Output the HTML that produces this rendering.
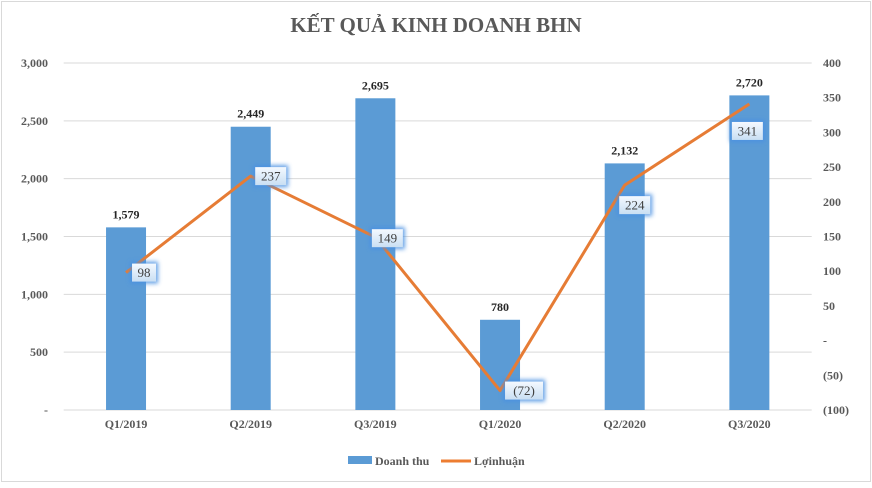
<!DOCTYPE html>
<html><head><meta charset="utf-8"><style>
body{margin:0;background:#fff}
svg text{font-family:"Liberation Serif",serif}
</style></head><body>
<svg width="872" height="483" viewBox="0 0 872 483">
<defs>
<linearGradient id="lg" x1="0" y1="0" x2="0" y2="1"><stop offset="0" stop-color="#f4f9ff"/><stop offset="1" stop-color="#c9dff3"/></linearGradient>
<filter id="glow" x="-50%" y="-50%" width="200%" height="200%"><feGaussianBlur stdDeviation="2"/></filter>
</defs>
<rect x="1.5" y="1.5" width="869" height="480" fill="#fff" stroke="#d9d9d9"/>
<text x="436" y="32" text-anchor="middle" font-size="21" font-weight="bold" fill="#595959">KẾT QUẢ KINH DOANH BHN</text>
<g id="grid"></g><g id="bars"></g><g id="line"></g><g id="labels"></g>
<g>
<rect x="348" y="456" width="24" height="8" fill="#5b9bd5"/>
<text x="375" y="465" font-size="12" font-weight="bold" fill="#595959">Doanh thu</text>
<line x1="441" y1="461" x2="471" y2="461" stroke="#ed7d31" stroke-width="3"/>
<text x="474" y="465" font-size="12" font-weight="bold" fill="#595959">Lợinhuận</text>
</g>
</svg>
<script>
const categories=["Q1/2019","Q2/2019","Q3/2019","Q1/2020","Q2/2020","Q3/2020"];
const revenue=[1579,2449,2695,780,2132,2720];
const profit=[98,237,149,-72,224,341];
const leftTicks=[0,500,1000,1500,2000,2500,3000];
const rightTicks=[-100,-50,0,50,100,150,200,250,300,350,400];
const labelOffsets=[[18,0],[20,0],[12,1],[24,0],[10,20],[-2,27]];
const NS="http://www.w3.org/2000/svg";
const X0=63.7,X1=811.7,Y0=410,Y1=63;
const cw=(X1-X0)/categories.length;
const xc=i=>X0+cw*(i+0.5);
const yL=v=>Y0-(v/3000)*(Y0-Y1);
const yR=v=>Y0-((v+100)/500)*(Y0-Y1);
const fmt=v=>v===0?"-":(v<0?"("+Math.abs(v).toLocaleString("en-US")+")":v.toLocaleString("en-US"));
function mk(tag,attrs,parent,txt){const e=document.createElementNS(NS,tag);for(const k in attrs)e.setAttribute(k,attrs[k]);if(txt!==undefined)e.textContent=txt;parent.appendChild(e);return e;}
const grid=document.getElementById("grid"),bars=document.getElementById("bars"),line=document.getElementById("line"),labels=document.getElementById("labels");
leftTicks.forEach(v=>{
 const y=yL(v);
 const l=mk("line",{x1:X0,x2:X1,y1:y,y2:y,stroke:"#d9d9d9","stroke-width":1},grid);
 
 
 const t=mk("text",{x:48,y:y+4,"text-anchor":"end","font-size":12,"font-weight":"bold",fill:"#595959"},grid,fmt(v));
 
 
});
rightTicks.forEach(v=>{
 const t=mk("text",{x:823,y:yR(v)+4,"font-size":12,"font-weight":"bold",fill:"#595959"},grid,fmt(v));
 
 
});
categories.forEach((c,i)=>{
 const t=mk("text",{x:xc(i),y:428,"text-anchor":"middle","font-size":12,"font-weight":"bold",fill:"#595959"},grid,c);
 
 
 const y=yL(revenue[i]);
 const b=mk("rect",{x:xc(i)-20,y:y,width:40,height:Y0-y,fill:"#5b9bd5"},bars);
 
 
 const bl=mk("text",{x:xc(i),y:y-9,"text-anchor":"middle","font-size":12,"font-weight":"bold",fill:"#262626"},bars,fmt(revenue[i]));
 
 
});
const pts=profit.map((v,i)=>xc(i)+","+yR(v)).join(" ");
const pl=mk("polyline",{points:pts,fill:"none",stroke:"#e67c35","stroke-width":3,"stroke-linejoin":"round"},line);


profit.forEach((v,i)=>{
 const cx=xc(i)+labelOffsets[i][0],cy=yR(v)+labelOffsets[i][1];
 const s=fmt(v),w=s.length*7+10;
 const g=mk("rect",{x:cx-w/2-2,y:cy-11,width:w+4,height:22,fill:"#4a90e2",filter:"url(#glow)",opacity:0.85},labels);
 
 
 const r=mk("rect",{x:cx-w/2,y:cy-9,width:w,height:18,fill:"url(#lg)"},labels);
 
 
 const t=mk("text",{x:cx,y:cy+4.5,"text-anchor":"middle","font-size":13,fill:"#404040"},labels,s);
 
 
});
</script>
</body></html>
